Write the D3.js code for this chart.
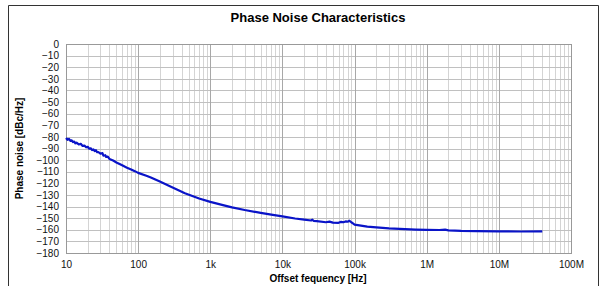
<!DOCTYPE html>
<html><head><meta charset="utf-8">
<script src="https://cdn.jsdelivr.net/npm/d3@7"></script>
<style>body{margin:0;background:#fff}svg{display:block}text{font-family:"Liberation Sans",Arial,sans-serif}</style>
</head><body>
<script>
const freqs = [10,10.5,11,11.5,12,12.5,13,13.5,14,15,16,17,18,19,20,21,22,23,24,25,26,27,28,30,32,33,35,36,38,40,45,50,60,70,80,90,100,130,150,200,300,445,700,1000,1500,2000,3000,5000,7000,10000,15000,20000,25000,26000,27000,30000,40000,45000,50000,60000,65000,70000,75000,80000,85000,90000,95000,100000,150000,200000,300000,500000,700000,1e6,1.5e6,1.8e6,2e6,3e6,5e6,1e7,2e7,4e7];
const noise = [-81,-82.5,-81.8,-83.5,-83,-84.5,-84,-85.5,-85,-86.5,-86,-87.8,-87.5,-89,-88.5,-90.2,-89.8,-91.3,-90.8,-92.2,-91.5,-93.2,-93,-94.5,-94,-96.2,-95.8,-97.2,-97,-99,-100.3,-102,-104.5,-106.5,-108,-109.5,-111,-113.5,-115,-118.5,-123.5,-128.5,-133,-136,-138.8,-140.7,-143,-145.5,-147,-148.5,-150.3,-151.3,-152,-151.3,-152.3,-152.5,-153.5,-153,-153.8,-154,-153.2,-153.5,-152.8,-153,-152.2,-153.5,-154.5,-155.5,-157.3,-158,-158.8,-159.5,-159.8,-160,-160.2,-159.9,-160.5,-161,-161.2,-161.3,-161.5,-161.3];
const xTickValues = [10,100,1e3,1e4,1e5,1e6,1e7,1e8];
const xTickLabels = ["10","100","1k","10k","100k","1M","10M","100M"];
const yTickValues = d3.range(0,-181,-10);

const W=600,H=286;
const m={l:66,r:29,t:44,b:33};
const svg=d3.select("body").append("svg").attr("width",W).attr("height",H);
const x=d3.scaleLog().domain([10,1e8]).range([m.l,W-m.r]);
const y=d3.scaleLinear().domain([-180,0]).range([H-m.b,m.t]);

// frame
svg.append("path").attr("d",`M8.5,${H}V5.5H598.5V${H}`).attr("fill","none").attr("stroke","#333").attr("stroke-width",1);

// minor grid
const minors=[];
for(let d=10;d<1e8;d*=10) for(let k=2;k<10;k++) minors.push(d*k);
svg.append("g").selectAll("line").data(minors).join("line")
 .attr("x1",d=>Math.round(x(d))+0.5).attr("x2",d=>Math.round(x(d))+0.5)
 .attr("y1",y(0)).attr("y2",y(-180)).attr("stroke","#d4d4d4").attr("stroke-width",1);
svg.append("g").selectAll("line").data(yTickValues).join("line")
 .attr("x1",x(10)).attr("x2",x(1e8))
 .attr("y1",d=>Math.round(y(d))+0.5).attr("y2",d=>Math.round(y(d))+0.5)
 .attr("stroke","#c0c0c0").attr("stroke-width",1);
svg.append("g").selectAll("line").data(xTickValues).join("line")
 .attr("x1",d=>Math.round(x(d))+0.5).attr("x2",d=>Math.round(x(d))+0.5)
 .attr("y1",y(0)).attr("y2",y(-180)).attr("stroke","#a8a8a8").attr("stroke-width",1);
svg.append("rect").attr("x",m.l+0.5).attr("y",m.t+0.5).attr("width",W-m.r-m.l).attr("height",H-m.b-m.t)
 .attr("fill","none").attr("stroke","#999");

// axes
const xa=svg.append("g").attr("transform",`translate(0,${H-m.b})`)
 .call(d3.axisBottom(x).tickValues(xTickValues).tickFormat((d,i)=>xTickLabels[i]).tickSize(0).tickPadding(8));
xa.select(".domain").remove();
xa.selectAll("text").attr("font-size",10).attr("fill","#111").style("font-family","'Liberation Sans',Arial,sans-serif");
const ya=svg.append("g").attr("transform",`translate(${m.l},0)`)
 .call(d3.axisLeft(y).tickValues(yTickValues).tickSize(0).tickPadding(7));
ya.select(".domain").remove();
ya.selectAll("text").attr("font-size",10).attr("fill","#111").style("font-family","'Liberation Sans',Arial,sans-serif");

// line
const pts=freqs.map((f,i)=>[f,noise[i]]);
svg.append("path").datum(pts).attr("fill","none").attr("stroke","#0a14c8").attr("stroke-width",2.2)
 .attr("stroke-linejoin","round")
 .attr("d",d3.line().x(d=>x(d[0])).y(d=>y(d[1])));

// titles
svg.append("text").attr("x",318).attr("y",22).attr("text-anchor","middle").attr("font-size",13).attr("font-weight","bold").text("Phase Noise Characteristics");
svg.append("text").attr("x",318).attr("y",282).attr("text-anchor","middle").attr("font-size",10).attr("font-weight","bold").text("Offset fequency [Hz]");
svg.append("text").attr("transform",`translate(23,${(m.t+H-m.b)/2}) rotate(-90)`).attr("text-anchor","middle").attr("font-size",10).attr("font-weight","bold").text("Phase noise [dBc/Hz]");
</script>
</body></html>
